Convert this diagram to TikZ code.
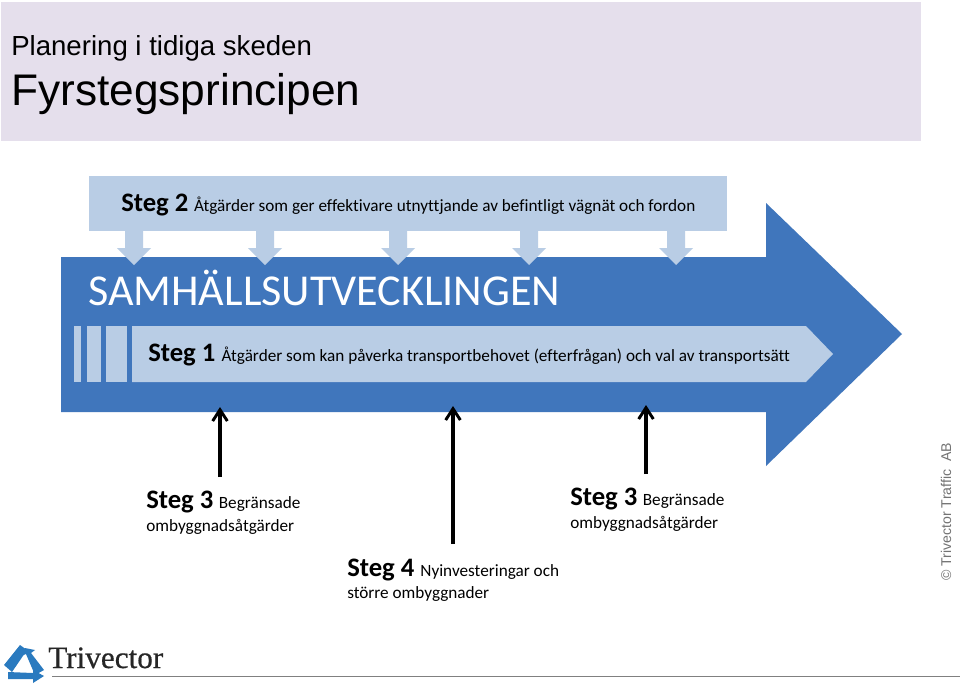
\documentclass[tikz,border=0pt]{standalone}
\usepackage{fontspec}
\setmainfont{Liberation Sans}
\newfontfamily\calfam[Ligatures=NoCommon]{Carlito}
\newfontfamily\serfam[FakeBold=0.5]{Liberation Serif}
\usetikzlibrary{arrows.meta}
\definecolor{band}{HTML}{4076BC}
\definecolor{pale}{HTML}{B9CDE5}
\definecolor{titlebg}{HTML}{E5DFEC}
\definecolor{logoblue}{HTML}{2A7ABF}
\tikzset{
  x=0.75pt,y=-0.75pt,
  txt/.style={inner sep=0pt,anchor=base west,text=black},
  steg/.style={txt,font=\calfam},
  down/.style={fill=pale,draw=none},
  up/.style={line width=2.3pt,-{Straight Barb[length=8.5pt,width=11pt,line width=2.2pt]}}
}
\newcommand{\stegb}[1]{{\fontsize{20}{22}\selectfont\bfseries #1}}
\newcommand{\smalltxt}{\fontsize{12.9}{15}\selectfont}
\newcommand{\smallarrow}[1]{\fill[down] (#1-9,231) -- (#1+9,231) -- (#1+9,248) -- (#1+17,248) -- (#1,265) -- (#1-17,248) -- (#1-9,248) -- cycle;}
\begin{document}
\begin{tikzpicture}
\useasboundingbox (0,0) rectangle (960,689);
\fill[white] (0,0) rectangle (960,689);
\fill[titlebg] (1,2) rectangle (921,141);
\node[txt,font=\fontsize{20.7}{23}\selectfont] (t1) at (11,55) {Planering i tidiga skeden};
\node[txt,font=\fontsize{33.2}{38}\selectfont] (t2) at (11,105) {Fyrstegsprincipen};
% main arrow
\fill[band] (61,257) -- (766,257) -- (766,203) -- (902,334) -- (766,466) -- (766,412) -- (61,412) -- cycle;
% step 2
\fill[down] (89,176) rectangle (727,231);
\smallarrow{134}
\smallarrow{265}
\smallarrow{398}
\smallarrow{529}
\smallarrow{676}
\node[steg] (s2) at (121,211) {\stegb{Steg 2}\hspace{0.43em}{\smalltxt Åtgärder som ger effektivare utnyttjande av befintligt vägnät och fordon}};
\node[txt,font=\calfam\fontsize{33.1}{36}\selectfont,text=white] (sam) at (88,305) {SAMHÄLLSUTVECKLINGEN};
% step 1
\fill[pale] (74,326) rectangle (81,382);
\fill[pale] (87,326) rectangle (101,382);
\fill[pale] (106,326) rectangle (127,382);
\fill[pale] (132,326) -- (806,326) -- (833,354) -- (806,382) -- (132,382) -- cycle;
\node[steg] (s1) at (148,361) {\stegb{Steg 1}\hspace{0.47em}{\smalltxt Åtgärder som kan påverka transportbehovet (efterfrågan) och val av transportsätt}};
% black arrows
\coordinate (a1s) at (220,477); \coordinate (a1e) at (220,407);
\coordinate (a2s) at (453,544); \coordinate (a2e) at (453,406);
\coordinate (a3s) at (646,474); \coordinate (a3e) at (646,405);
\draw[up] (a1s) -- (a1e);
\draw[up] (a2s) -- (a2e);
\draw[up] (a3s) -- (a3e);
% labels
\node[steg] (s3a) at (146,508) {\stegb{Steg 3}\hspace{0.41em}{\smalltxt Begränsade}};
\node[steg,font=\calfam\smalltxt] (s3a2) at (146,531) {ombyggnadsåtgärder};
\node[steg] (s3b) at (570,505) {\stegb{Steg 3}\hspace{0.41em}{\smalltxt Begränsade}};
\node[steg,font=\calfam\smalltxt] (s3b2) at (570,528) {ombyggnadsåtgärder};
\node[steg] (s4) at (347,576) {\stegb{Steg 4}\hspace{0.45em}{\smalltxt Nyinvesteringar och}};
\node[steg,font=\calfam\smalltxt] (s42) at (347,598) {större ombyggnader};
% copyright
\node[txt,rotate=90,font=\fontsize{10.6}{12}\selectfont,text=black!55] (c) at (951,581) {© Trivector Traffic\ \ AB};
% logo
\fill[logoblue] (4,665) -- (20,645) -- (27,650) -- (12,672) -- cycle;
\fill[logoblue] (21,656) -- (25,648) -- (35,650) -- (31,653) -- (44,670) -- (35,675) -- (26,654) -- cycle;
\fill[logoblue] (8,672) -- (33,673) -- (33,670) -- (44,676) -- (33,683) -- (33,679) -- (8,679) -- cycle;
\node[txt,font=\serfam\fontsize{23.4}{25}\selectfont,text=black!85] (tv) at (48,668) {Trivector};
\coordinate (l1) at (52,676); \coordinate (l2) at (960,676);
\draw[black!50,line width=0.7pt] (l1) -- (l2);
\end{tikzpicture}
\end{document}
